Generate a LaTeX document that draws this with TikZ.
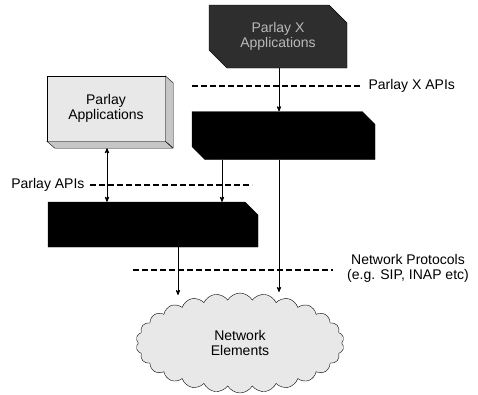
\documentclass[tikz,border=0pt]{standalone}
\usepackage{fontspec}
\setmainfont{Liberation Sans}
\usetikzlibrary{arrows}
\usetikzlibrary{shapes.misc,shapes.symbols}

\begin{document}
\begin{tikzpicture}[x=1pt,y=-1pt,>=stealth',
  txt/.style={font=\fontsize{14}{15}\selectfont, align=center},
  gwbox/.style={chamfered rectangle, chamfered rectangle xsep=9pt, chamfered rectangle ysep=9pt,
    fill=black, draw=black, inner sep=4pt},
  apiline/.style={dashed, dash pattern=on 6pt off 3pt, line width=1.1pt},
  link/.style={->, line width=.8pt}]
\useasboundingbox (0,0) rectangle (478,394);

% application boxes
\node[gwbox, fill=black!82, draw=black, text=gray!55, txt, minimum width=138pt, minimum height=63pt,
  chamfered rectangle corners={north east,south west}] (topapp) at (278,36.5) {Parlay X\\Applications};
\node[draw, fill=gray!18, txt, minimum width=118pt, minimum height=65pt, inner sep=0pt] (papp) at (106,108.5) {Parlay\\Applications};
\filldraw[fill=gray!45] (papp.north east) -- ++(8,7) -- ++(0,65) -- (papp.south east) -- cycle;
\filldraw[fill=gray!45] (papp.south west) -- ++(8,7) -- ++(118,0) -- (papp.south east) -- cycle;

% gateways
\node[gwbox, txt, minimum width=183pt, minimum height=48pt,
  chamfered rectangle corners={north east,south west}] (xgw) at (283.5,135.5) {\strut};
\node[gwbox, txt, minimum width=210pt, minimum height=45pt,
  chamfered rectangle corners=north east] (pgw) at (153,224.5) {\strut};

% network
\node[cloud, cloud puffs=26, cloud puff arc=120, aspect=2.1, draw, fill=gray!18, txt,
  minimum width=208pt, minimum height=100pt, inner sep=0pt] (net) at (240,343) {Network\\Elements};

\coordinate (colA) at (107,0);
\coordinate (colB) at (178,0);
\coordinate (colC) at (222,0);
\coordinate (colD) at (279,0);
\coordinate (inB) at (178,295);
\coordinate (inD) at (279,292);

% interfaces
\draw[apiline] (192,86) -- (360,86);
\node[txt, anchor=west] (xapi) at (365,86) {Parlay X APIs};
\draw[apiline] (90,185) -- (252,185);
\node[txt, anchor=east] (papi) at (88,185) {Parlay APIs};
\draw[apiline] (133,270) -- (333,270);
\node[txt] (proto) at (408,268) {Network Protocols\\(e.g. SIP, INAP etc)};

% connectors
\draw[link] (colD |- topapp.south) -- (colD |- xgw.north);
\draw[link, <->] ([yshift=-7pt]colA |- papp.south) -- (colA |- pgw.north);
\draw[link] (colC |- xgw.south) -- (colC |- pgw.north);
\draw[link] (colB |- pgw.south) -- (inB);
\draw[link] (colD |- xgw.south) -- (inD);
\end{tikzpicture}
\end{document}
